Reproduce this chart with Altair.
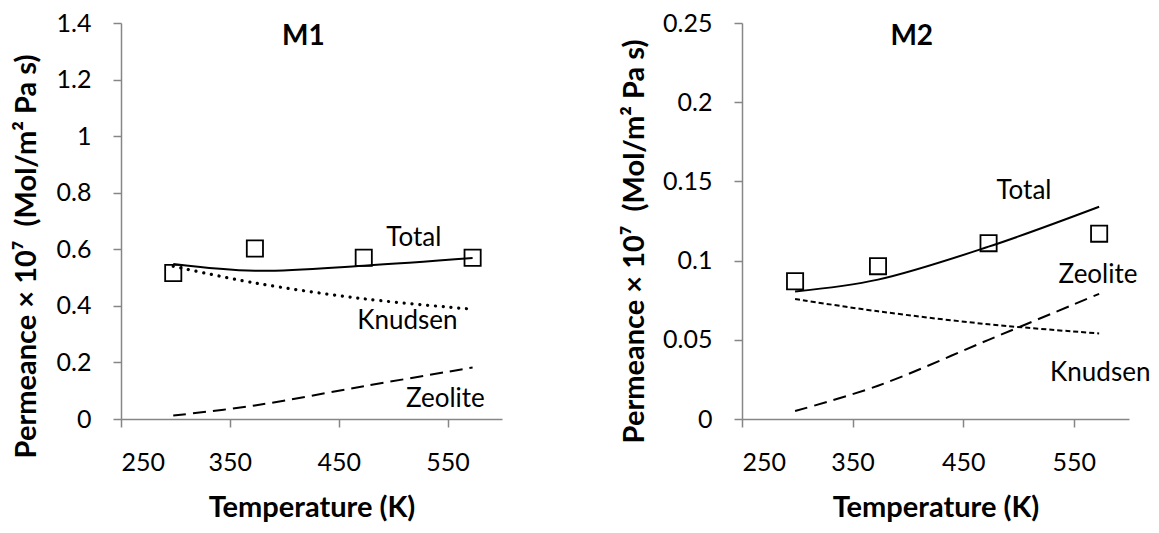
import altair as alt
import pandas as pd

# ---------------- data ----------------
temps = [298, 373, 473, 573]

m1_exp = [0.516, 0.603, 0.570, 0.570]
m1_total = [0.548, 0.524, 0.542, 0.569]
m1_knudsen = [0.540, 0.481, 0.425, 0.388]
m1_zeolite = [0.012, 0.048, 0.116, 0.182]

m2_exp = [0.087, 0.0965, 0.111, 0.117]
m2_total = [0.0805, 0.088, 0.1088, 0.134]
m2_knudsen = [0.0757, 0.068, 0.0598, 0.054]
m2_zeolite = [0.005, 0.021, 0.050, 0.079]

label_names = ["Total", "Knudsen", "Zeolite"]
m1_label_T = [519, 513, 548]
m1_label_v = [0.641, 0.348, 0.070]
m2_label_T = [505, 574, 572]
m2_label_v = [0.144, 0.029, 0.091]

# panel titles, placed in data coordinates inside each plot
panel_titles = ["M1", "M2"]
title_T = [417.5, 403.5]
title_v = [1.351, 0.241]

x_ticks = [250, 350, 450, 550]
m1_y_ticks = [0, 0.2, 0.4, 0.6, 0.8, 1.0, 1.2, 1.4]
m2_y_ticks = [0, 0.05, 0.1, 0.15, 0.2, 0.25]

FONT = "Lato"
AX = "#868686"
Y_TITLE = "Permeance \u00d7 10\u2077\u00a0\u00a0(Mol/m\u00b2 Pa s)"


def panel(idx, exp, total, knud, zeo, lab_T, lab_v, ymax, yticks,
          knud_style, zeo_style, width, ytitle_x, ytitle_y):
    df = pd.DataFrame({"T": temps, "exp": exp, "total": total,
                       "knudsen": knud, "zeolite": zeo})
    lab = pd.DataFrame({"T": lab_T, "v": lab_v, "name": label_names})
    ttl = pd.DataFrame({"T": [title_T[idx]], "v": [title_v[idx]],
                        "name": [panel_titles[idx]]})
    xs = alt.Scale(domain=[250, 600], nice=False, zero=False)
    ys = alt.Scale(domain=[0, ymax], nice=False)
    xaxis = alt.Axis(values=x_ticks, title="Temperature (K)", labelPadding=23,
                     titleY=88, titleBaseline="middle")
    yaxis = alt.Axis(values=yticks, format="~g", title=Y_TITLE, labelPadding=22,
                     titleX=ytitle_x, titleY=ytitle_y, titleAngle=270,
                     titleBaseline="middle", titleAlign="center")
    x = alt.X("T:Q", scale=xs, axis=xaxis)
    base = alt.Chart(df)

    def line(field, **style):
        return base.mark_line(color="black", interpolate="catmull-rom", **style).encode(
            x=x, y=alt.Y(f"{field}:Q", scale=ys, axis=yaxis))

    total_line = line("total", strokeWidth=2)
    knud_line = line("knudsen", **knud_style)
    zeo_line = line("zeolite", **zeo_style)
    pts = base.mark_point(shape="square", size=262, filled=False, color="black",
                          strokeWidth=1.8, opacity=1).encode(
        x=x, y=alt.Y("exp:Q", scale=ys, axis=yaxis))
    labels = alt.Chart(lab).mark_text(font=FONT, fontSize=26, color="black",
                                      align="center", baseline="middle").encode(
        x=alt.X("T:Q", scale=xs, axis=xaxis),
        y=alt.Y("v:Q", scale=ys, axis=yaxis),
        text="name:N")
    title = alt.Chart(ttl).mark_text(font=FONT, fontSize=28, fontWeight="bold",
                                     color="black", align="center",
                                     baseline="middle").encode(
        x=alt.X("T:Q", scale=xs, axis=xaxis),
        y=alt.Y("v:Q", scale=ys, axis=yaxis),
        text="name:N")
    return alt.layer(total_line, knud_line, zeo_line, pts, labels, title).properties(
        width=width, height=396)


left = panel(0, m1_exp, m1_total, m1_knudsen, m1_zeolite, m1_label_T, m1_label_v,
             1.4, m1_y_ticks,
             dict(strokeWidth=3.2, strokeDash=[0.1, 7.7], strokeCap="round"),
             dict(strokeWidth=2, strokeDash=[13, 7]),
             381, -95, 233)
right = panel(1, m2_exp, m2_total, m2_knudsen, m2_zeolite, m2_label_T, m2_label_v,
              0.25, m2_y_ticks,
              dict(strokeWidth=2, strokeDash=[5, 3]),
              dict(strokeWidth=2, strokeDash=[13, 7]),
              387, -108, 218)

chart = alt.hconcat(left, right, spacing=117).properties(
    padding={"left": 3, "top": 3, "right": 0, "bottom": 0}
).configure_view(stroke=None).configure_axis(
    grid=False, domainColor=AX, tickColor=AX, domainWidth=1.5, tickWidth=1.5,
    tickSize=8, labelFont=FONT, labelFontSize=25, labelColor="black",
    titleFont=FONT, titleFontSize=29, titleFontWeight="bold", titleColor="black"
)

chart.save("out.html", embed_options={"renderer": "svg", "actions": False})
